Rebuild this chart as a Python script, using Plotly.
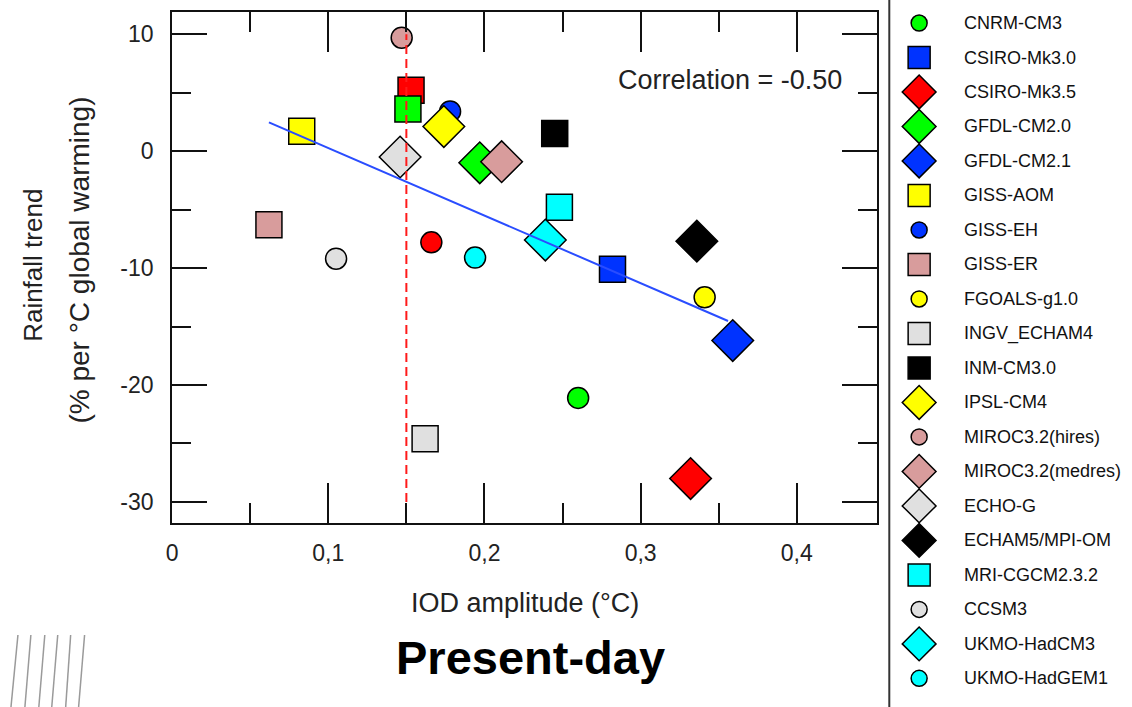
import plotly.graph_objects as go

# ---------------- data ----------------
models = ["CNRM-CM3", "CSIRO-Mk3.0", "CSIRO-Mk3.5", "GFDL-CM2.0", "GFDL-CM2.1",
          "GISS-AOM", "GISS-EH", "GISS-ER", "FGOALS-g1.0", "INGV_ECHAM4",
          "INM-CM3.0", "IPSL-CM4", "MIROC3.2(hires)", "MIROC3.2(medres)", "ECHO-G",
          "ECHAM5/MPI-OM", "MRI-CGCM2.3.2", "CCSM3", "UKMO-HadCM3", "UKMO-HadGEM1"]
iod_amp = [0.260, 0.282, 0.332, 0.197, 0.359, 0.083, 0.178, 0.062, 0.341, 0.162,
           0.245, 0.174, 0.147, 0.211, 0.146, 0.336, 0.248, 0.105, 0.239, 0.194]
rain_trend = [-21.1, -10.1, -28.0, -1.0, -16.2, 1.7, 3.4, -6.3, -12.5, -24.6,
              1.5, 2.1, 9.7, -0.9, -0.5, -7.7, -4.8, -9.2, -7.6, -9.1]
symbols = ["circle", "square", "diamond", "diamond", "diamond",
           "square", "circle", "square", "circle", "square",
           "square", "diamond", "circle", "diamond", "diamond",
           "diamond", "square", "circle", "diamond", "circle"]
colors = ["#00ff00", "#0033ff", "#ff0000", "#00ff00", "#0033ff",
          "#ffff00", "#0033ff", "#d89c9c", "#ffff00", "#e0e0e0",
          "#000000", "#ffff00", "#d89c9c", "#d89c9c", "#e0e0e0",
          "#000000", "#00ffff", "#e0e0e0", "#00ffff", "#00ffff"]

# unlabelled extra points visible in the panel
extra_iod = [0.153, 0.151, 0.166]
extra_rain = [5.2, 3.6, -7.8]
extra_symbols = ["square", "square", "circle"]
extra_colors = ["#ff0000", "#00ff00", "#ff0000"]

# regression line (slope, intercept) and its x extent
fit_slope = -57.8
fit_intercept = 6.05
fit_x = [0.062, 0.356]

threshold_iod = 0.15
correlation_text = "Correlation = -0.50"

x_major = [0, 0.1, 0.2, 0.3, 0.4]
x_major_text = ["0", "0,1", "0,2", "0,3", "0,4"]
x_minor = [0.05, 0.15, 0.25, 0.35]
y_major = [10, 0, -10, -20, -30]
y_major_text = ["10", "0", "-10", "-20", "-30"]
y_minor = [5, -5, -15, -25]

# ---------------- figure ----------------
W, H = 1132, 707
PL, PR, PT, PB = 167, 876, 12, 523   # plot box in pixels

size_map = {"circle": 21, "square": 26, "diamond": 32}
leg_size_map = {"circle": 16, "square": 22, "diamond": 26}

fig = go.Figure()

for m, xv, yv, s, c in zip(models, iod_amp, rain_trend, symbols, colors):
    fig.add_trace(go.Scatter(
        x=[xv], y=[yv], mode="markers", name=m, showlegend=False,
        marker=dict(symbol=s, size=size_map[s], color=c,
                    line=dict(color="black", width=1.5))))

for xv, yv, s, c in zip(extra_iod, extra_rain, extra_symbols, extra_colors):
    fig.add_trace(go.Scatter(
        x=[xv], y=[yv], mode="markers", showlegend=False,
        marker=dict(symbol=s, size=size_map[s], color=c,
                    line=dict(color="black", width=1.5))))

fit_y = [fit_intercept + fit_slope * v for v in fit_x]
fig.add_trace(go.Scatter(x=fit_x, y=fit_y, mode="lines", showlegend=False,
                         line=dict(color="#2a4dff", width=2)))

# manual legend on its own axes
for i, (m, s, c) in enumerate(zip(models, symbols, colors)):
    fig.add_trace(go.Scatter(
        x=[29], y=[i], xaxis="x2", yaxis="y2", mode="markers", showlegend=False,
        marker=dict(symbol=s, size=leg_size_map[s], color=c,
                    line=dict(color="black", width=1.5))))
    fig.add_annotation(x=72, y=i, xref="x2", yref="y2", text=m, showarrow=False,
                       xanchor="left", yanchor="middle",
                       font=dict(size=18, color="#111111"))

font_family = "Liberation Sans, Arial, Helvetica, sans-serif"

fig.update_layout(
    width=W, height=H,
    margin=dict(l=0, r=0, t=0, b=0),
    paper_bgcolor="white", plot_bgcolor="white",
    font=dict(family=font_family, color="#222222"),
    xaxis=dict(
        domain=[PL / W, PR / W], range=[0, 0.4516],
        showgrid=False, zeroline=False,
        showline=True, linecolor="#111111", linewidth=2, mirror="ticks",
        ticks="inside", ticklen=40, tickwidth=2, tickcolor="#111111",
        tickvals=x_major, ticktext=x_major_text,
        tickfont=dict(size=23), ticklabelstandoff=8,
        minor=dict(tickvals=x_minor, ticks="inside", ticklen=20,
                   tickwidth=2, tickcolor="#111111"),
    ),
    yaxis=dict(
        domain=[1 - PB / H, 1 - PT / H], range=[-31.8, 11.9],
        showgrid=False, zeroline=False,
        showline=True, linecolor="#111111", linewidth=2, mirror="ticks",
        ticks="inside", ticklen=35, tickwidth=2, tickcolor="#111111",
        tickvals=y_major, ticktext=y_major_text,
        tickfont=dict(size=23), ticklabelstandoff=12,
        minor=dict(tickvals=y_minor, ticks="inside", ticklen=19,
                   tickwidth=2, tickcolor="#111111"),
    ),
    xaxis2=dict(domain=[889 / W, 1], range=[0, 243], visible=False,
                anchor="y2"),
    yaxis2=dict(domain=[0, 1], range=[19.83, -0.667], visible=False,
                anchor="x2"),
)

# threshold dashed line
fig.add_shape(type="line", xref="x", yref="y", x0=threshold_iod, x1=threshold_iod,
              y0=-30, y1=10, line=dict(color="#ff1a1a", width=2, dash="9px,5px"),
              layer="above")

# separator line between panel and legend
fig.add_shape(type="line", xref="paper", yref="paper", x0=888 / W, x1=888 / W,
              y0=0, y1=1, line=dict(color="#333333", width=2))

# decorative hatch lines at bottom-left
hatch_top = [12, 25, 39, 52, 65, 79]
hatch_bottom = [5, 19, 33, 46, 60, 73]
for xt, xb in zip(hatch_top, hatch_bottom):
    fig.add_shape(type="line", xref="paper", yref="paper",
                  x0=xb / W, y0=0, x1=xt / W, y1=1 - 635 / H,
                  line=dict(color="#9a9a9a", width=1.5))

# texts
fig.add_annotation(x=842 / W, y=1 - 80 / H, xref="paper", yref="paper",
                   text=correlation_text, showarrow=False, xanchor="right",
                   yanchor="middle", font=dict(size=27, color="#222222"))
fig.add_annotation(x=27 / W, y=1 - 265 / H, xref="paper", yref="paper",
                   text="Rainfall trend", showarrow=False, textangle=-90,
                   xanchor="center", yanchor="middle",
                   font=dict(size=26, color="#222222"))
fig.add_annotation(x=73 / W, y=1 - 260 / H, xref="paper", yref="paper",
                   text="(% per °C global warming)", showarrow=False, textangle=-90,
                   xanchor="center", yanchor="middle",
                   font=dict(size=28, color="#222222"))
fig.add_annotation(x=522 / W, y=1 - 603 / H, xref="paper", yref="paper",
                   text="IOD amplitude (°C)", showarrow=False,
                   xanchor="center", yanchor="middle",
                   font=dict(size=27, color="#222222"))
fig.add_annotation(x=527 / W, y=1 - 657 / H, xref="paper", yref="paper",
                   text="<b>Present-day</b>", showarrow=False,
                   xanchor="center", yanchor="middle",
                   font=dict(size=47, color="#000000"))

fig.write_html("out.html",
               config={"displayModeBar": False},
               post_script="document.body.style.margin='0px';")
